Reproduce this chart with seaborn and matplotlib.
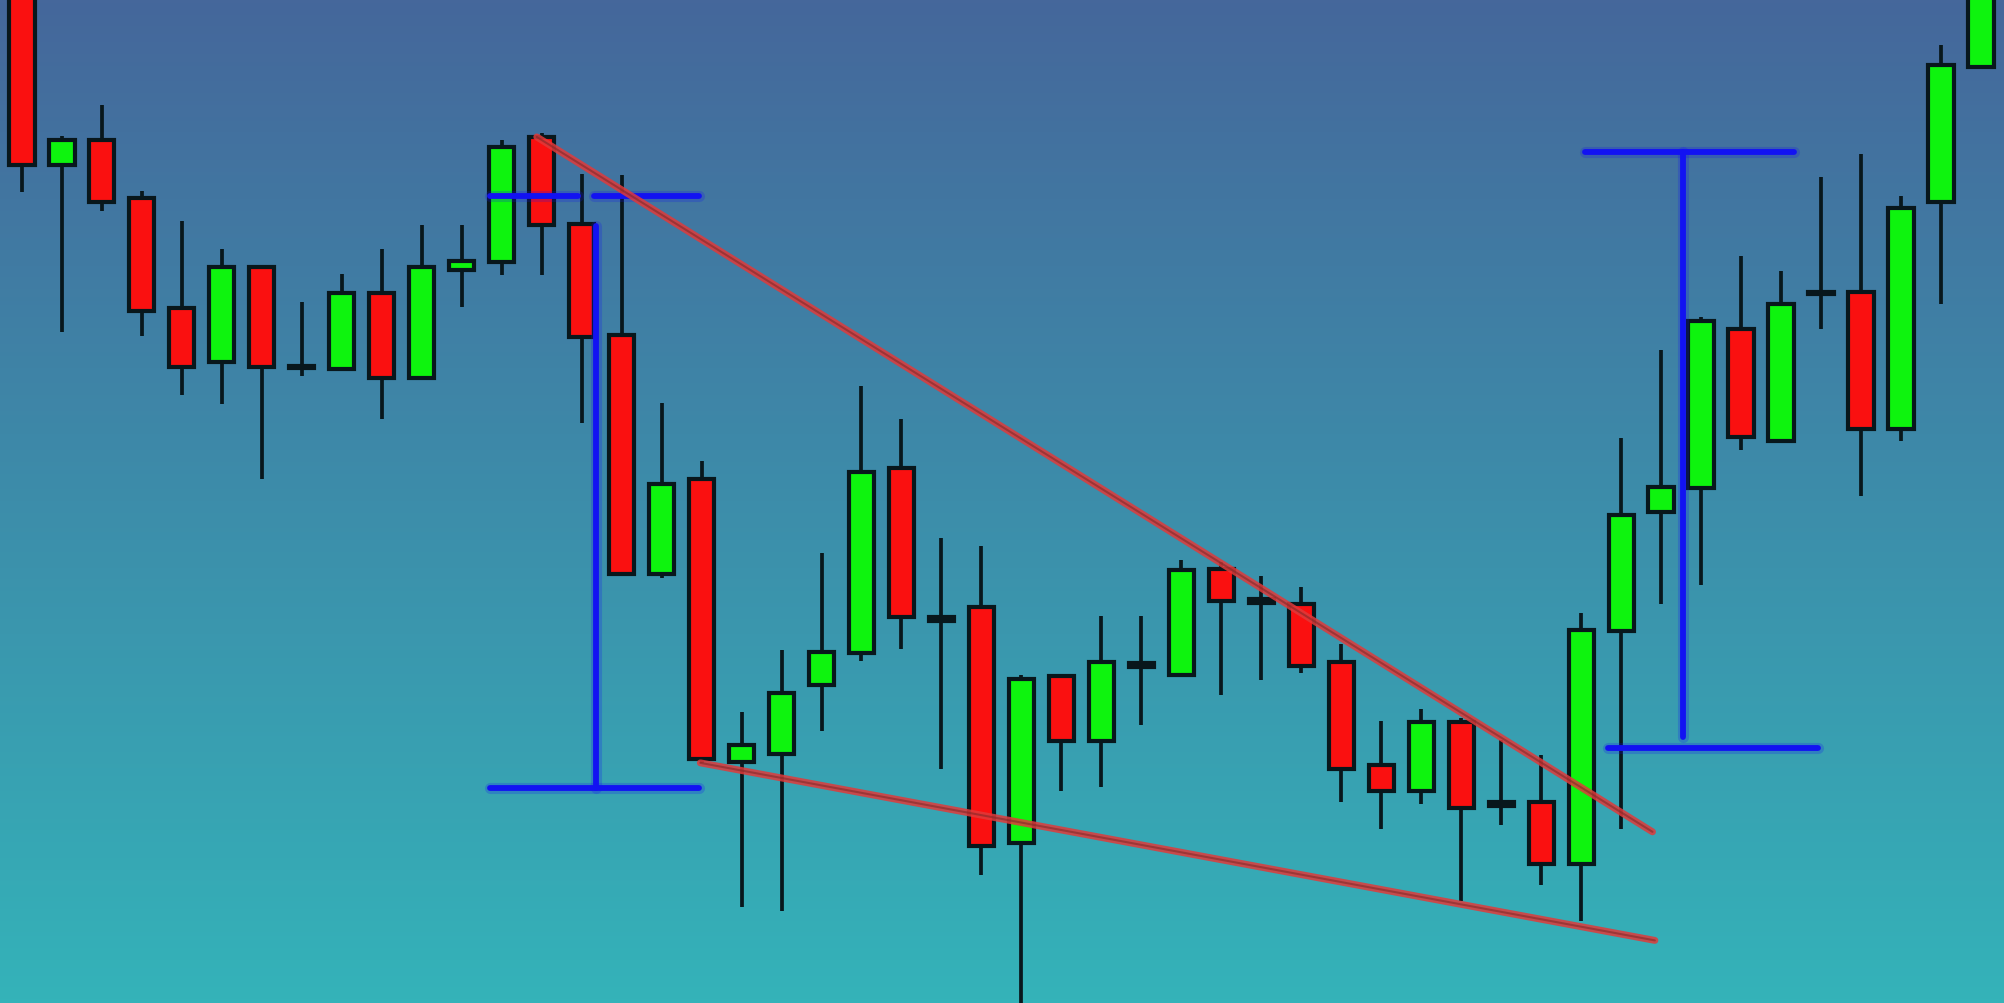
import numpy as np
import pandas as pd
import matplotlib
matplotlib.use("Agg")
import matplotlib.pyplot as plt
from matplotlib.colors import LinearSegmentedColormap
import seaborn as sns

# ── candle data (price units) ─────────────────────────────────────────────────
OPEN  = [826, 656, 676, 630, 544, 502, 576, 499, 496, 556,
         489, 574, 580, 678, 610, 523, 336, 410, 189, 195,
         249, 274, 419, 302, 310, 125, 256, 205, 266, 257,
         340, 316, 312, 267, 186, 166, 220, 157, 157, 109,
         291, 384, 403, 528, 440, 557, 557, 449, 627, 733]
CLOSE = [656, 676, 627, 542, 498, 576, 498, 497, 556, 489,
         576, 581, 670, 609, 521, 336, 406, 191, 202, 243,
         275, 416, 302, 299, 123, 254, 205, 267, 263, 339,
         315, 313, 264, 183, 166, 220, 153, 154, 109, 292,
         382, 404, 534, 443, 547, 555, 449, 622, 734, 830]
HIGH  = [840, 679, 703, 636, 612, 590, 576, 549, 571, 590,
         609, 609, 676, 681, 649, 648, 470, 424, 228, 276,
         352, 483, 457, 364, 358, 257, 256, 303, 303, 347,
         345, 334, 326, 281, 221, 230, 223, 206, 194, 305,
         442, 511, 537, 585, 573, 647, 665, 632, 750, 840]
LOW   = [635, 525, 620, 522, 476, 469, 410, 491, 496, 457,
         489, 545, 570, 570, 454, 336, 333, 188, 75, 72,
         213, 268, 277, 183, 100, -14, 166, 169, 218, 257,
         241, 253, 258, 157, 136, 156, 80, 139, 92, 64,
         136, 312, 327, 433, 440, 528, 397, 440, 547, 731]

# trend lines (candle index, price)
UPPER_TREND_X = [12.88, 40.78]
UPPER_TREND_Y = [678, 134]
LOWER_TREND_X = [16.97, 40.84]
LOWER_TREND_Y = [188, 49]

# measured-move brackets (blue)
LEFT_TOP, LEFT_BOTTOM = 632, 168
LEFT_X = [11.70, 16.94]
LEFT_GAP = [13.90, 14.30]
LEFT_STEM_X, LEFT_STEM_TOP = 14.35, 608
RIGHT_TOP, RIGHT_BOTTOM = 666, 200
RIGHT_TOP_X = [39.09, 44.33]
RIGHT_BOTTOM_X = [39.66, 44.93]
RIGHT_STEM_X, RIGHT_STEM_BOTTOM = 41.55, 208

# ── style ─────────────────────────────────────────────────────────────────────
sns.set_style("white")
GREEN = "#0ef40e"
RED = "#fa1010"
EDGE = "#08171c"
TREND_RED = "#e03a3a"
BLUE = "#1212f2"
BG_TOP = "#45679b"
BG_BOTTOM = "#34b3b9"

fig = plt.figure(figsize=(20.04, 10.04), dpi=100)
ax = fig.add_axes([0, 0, 1, 1])
XLIM = (-0.543, 49.57)
YLIM = (0, 786)

# gradient background
cmap = LinearSegmentedColormap.from_list("bg", [BG_BOTTOM, BG_TOP])
grad = np.linspace(0, 1, 256).reshape(-1, 1)
ax.imshow(grad, extent=[XLIM[0], XLIM[1], YLIM[0], YLIM[1]], origin="lower",
          aspect="auto", cmap=cmap, zorder=0)

df = pd.DataFrame({"open": OPEN, "close": CLOSE, "high": HIGH, "low": LOW})
df["x"] = np.arange(len(df))
df["up"] = df["close"] >= df["open"]

# wicks
ax.vlines(df["x"], df["low"], df["high"], color=EDGE, linewidth=2.7, zorder=2)

# bodies
bottom = df[["open", "close"]].min(axis=1)
height = (df["close"] - df["open"]).abs()
colours = [GREEN if u else RED for u in df["up"]]
ax.bar(df["x"], height, bottom=bottom, width=0.64, color=colours,
       edgecolor=EDGE, linewidth=3.0, zorder=3)

# wedge lines
for xs, ys in ((UPPER_TREND_X, UPPER_TREND_Y), (LOWER_TREND_X, LOWER_TREND_Y)):
    line = pd.DataFrame({"x": xs, "y": ys})
    sns.lineplot(data=line, x="x", y="y", ax=ax, color=TREND_RED, linewidth=5,
                 alpha=0.85, estimator=None, zorder=5)
    sns.lineplot(data=line, x="x", y="y", ax=ax, color="#7a2626", linewidth=1.5,
                 alpha=0.55, estimator=None, zorder=6)

# blue brackets
def blue(xs, ys):
    ax.plot(xs, ys, color=BLUE, linewidth=8, alpha=0.22, solid_capstyle="round", zorder=4)
    ax.plot(xs, ys, color=BLUE, linewidth=4.2, solid_capstyle="round", zorder=4)

blue([LEFT_X[0], LEFT_GAP[0]], [LEFT_TOP, LEFT_TOP])
blue([LEFT_GAP[1], LEFT_X[1]], [LEFT_TOP, LEFT_TOP])
blue(LEFT_X, [LEFT_BOTTOM, LEFT_BOTTOM])
blue([LEFT_STEM_X, LEFT_STEM_X], [LEFT_STEM_TOP, LEFT_BOTTOM])
blue(RIGHT_TOP_X, [RIGHT_TOP, RIGHT_TOP])
blue(RIGHT_BOTTOM_X, [RIGHT_BOTTOM, RIGHT_BOTTOM])
blue([RIGHT_STEM_X, RIGHT_STEM_X], [RIGHT_TOP, RIGHT_STEM_BOTTOM])

ax.set_xlim(*XLIM)
ax.set_ylim(*YLIM)
ax.set_axis_off()

fig.savefig("out.png", dpi=100)
